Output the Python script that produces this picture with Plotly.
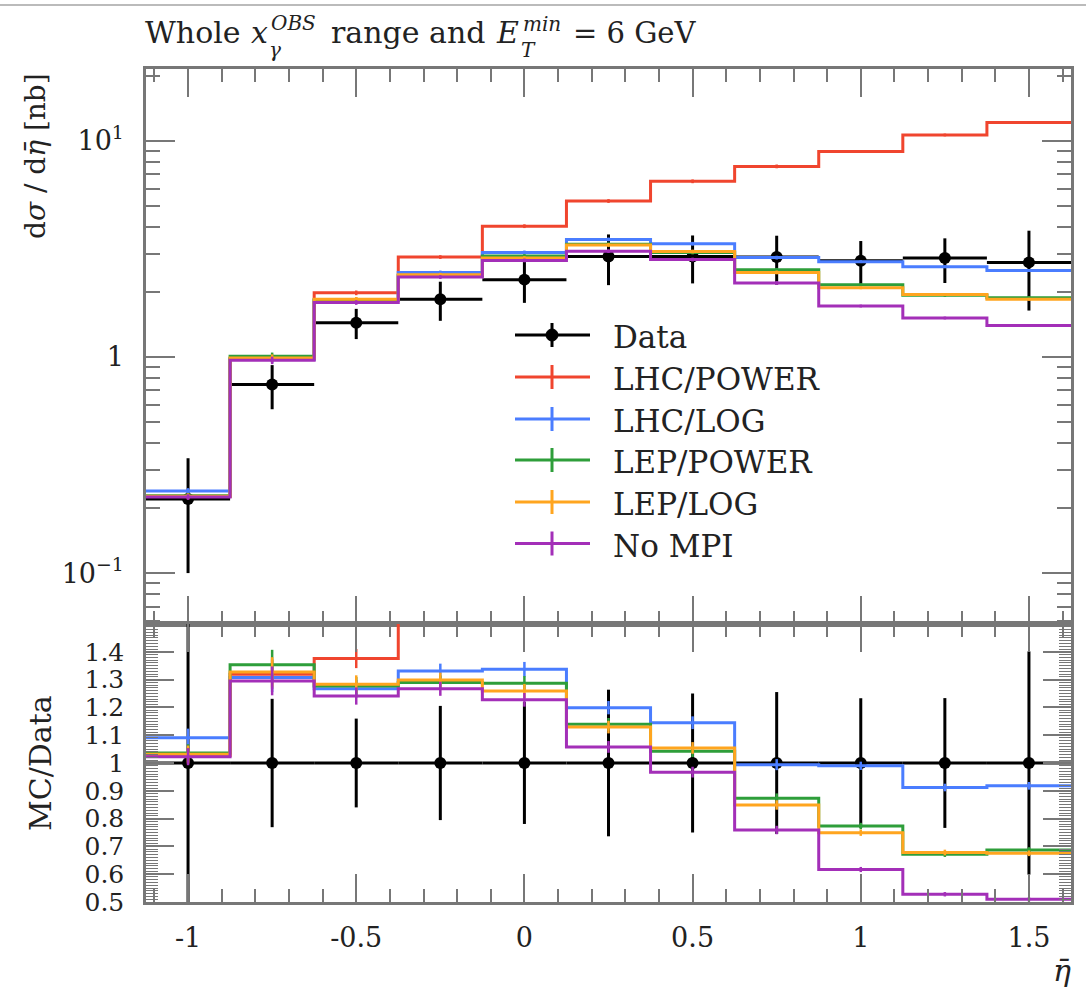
import plotly.graph_objects as go

# ---------------- data ----------------
bin_edges = [-1.125, -0.875, -0.625, -0.375, -0.125, 0.125, 0.375, 0.625, 0.875, 1.125, 1.375, 1.625]
bin_centers = [-1.0, -0.75, -0.5, -0.25, 0.0, 0.25, 0.5, 0.75, 1.0, 1.25, 1.5]

data_vals = [0.22, 0.745, 1.44, 1.85, 2.28, 2.92, 2.92, 2.90, 2.79, 2.87, 2.74]
data_errs = [0.12, 0.172, 0.23, 0.38, 0.50, 0.77, 0.73, 0.74, 0.65, 0.67, 1.10]

lhc_power = [0.226, 0.983, 1.981, 2.90, 4.03, 5.27, 6.50, 7.62, 8.94, 10.65, 12.16]
lhc_log = [0.240, 0.974, 1.824, 2.462, 3.048, 3.501, 3.343, 2.883, 2.762, 2.617, 2.515]
lep_power = [0.228, 1.008, 1.839, 2.385, 2.934, 3.326, 3.043, 2.532, 2.157, 1.929, 1.882]
lep_log = [0.227, 0.989, 1.848, 2.403, 2.871, 3.297, 3.078, 2.462, 2.090, 1.946, 1.850]
no_mpi = [0.225, 0.965, 1.787, 2.344, 2.798, 3.089, 2.824, 2.201, 1.721, 1.515, 1.397]
mc_rel_err = [0.03, 0.04, 0.025, 0.02, 0.02, 0.02, 0.02, 0.02, 0.015, 0.015, 0.015]

series_names = ["LHC/POWER", "LHC/LOG", "LEP/POWER", "LEP/LOG", "No MPI"]
series_vals = [lhc_power, lhc_log, lep_power, lep_log, no_mpi]
series_colors = ["#F0452E", "#4A7DFF", "#2E9E3A", "#FFA51F", "#A32FB8"]

x_tick_vals = [-1, -0.5, 0, 0.5, 1, 1.5]
x_tick_text = ["-1", "-0.5", "0", "0.5", "1", "1.5"]
y_tick_vals = [0.1, 1, 10]
y_tick_text = ["10<sup>\u22121</sup>", "1", "10<sup>1</sup>"]
r_tick_vals = [0.5, 0.6, 0.7, 0.8, 0.9, 1.0, 1.1, 1.2, 1.3, 1.4]
r_tick_text = ["0.5", "0.6", "0.7", "0.8", "0.9", "1", "1.1", "1.2", "1.3", "1.4"]

# ---------------- geometry ----------------
W, H = 1086, 991
L, R, T, B = 146, 1071, 69, 902
FONT = "DejaVu Serif"
FRAME = "#777777"
TXT = "#222222"


def xp(px):
    return (px - L) / (R - L)


def yp(py):
    return (B - py) / (B - T)


split = yp(624)
half_w = [(bin_edges[i + 1] - bin_edges[i]) / 2 for i in range(len(bin_centers))]

fig = go.Figure()

# ---- top panel: data
fig.add_trace(go.Scatter(
    x=bin_centers, y=data_vals, mode="markers", xaxis="x", yaxis="y",
    marker=dict(color="black", size=12),
    error_x=dict(type="data", array=half_w, width=0, thickness=3, color="black"),
    error_y=dict(type="data", array=data_errs, width=0, thickness=3, color="black"),
    showlegend=False, hoverinfo="skip"))

# ---- top panel: MC
for vals, col in zip(series_vals, series_colors):
    fig.add_trace(go.Scatter(
        x=bin_edges, y=vals + [vals[-1]], mode="lines", xaxis="x", yaxis="y",
        line=dict(shape="hv", color=col, width=3), showlegend=False, hoverinfo="skip"))
    fig.add_trace(go.Scatter(
        x=bin_centers, y=vals, mode="markers", xaxis="x", yaxis="y",
        marker=dict(size=1, color=col),
        error_y=dict(type="data", array=[v * e for v, e in zip(vals, mc_rel_err)],
                     width=0, thickness=2.5, color=col),
        showlegend=False, hoverinfo="skip"))

# ---- ratio panel: data
fig.add_trace(go.Scatter(
    x=bin_centers, y=[1.0] * len(bin_centers), mode="markers", xaxis="x2", yaxis="y2",
    marker=dict(color="black", size=12),
    error_x=dict(type="data", array=half_w, width=0, thickness=3, color="black"),
    error_y=dict(type="data", array=[e / v for e, v in zip(data_errs, data_vals)],
                 width=0, thickness=3, color="black"),
    showlegend=False, hoverinfo="skip"))

# ---- ratio panel: MC
for vals, col in zip(series_vals, series_colors):
    ratio = [m / d for m, d in zip(vals, data_vals)]
    fig.add_trace(go.Scatter(
        x=bin_edges, y=ratio + [ratio[-1]], mode="lines", xaxis="x2", yaxis="y2",
        line=dict(shape="hv", color=col, width=3), showlegend=False, hoverinfo="skip"))
    fig.add_trace(go.Scatter(
        x=bin_centers, y=ratio, mode="markers", xaxis="x2", yaxis="y2",
        marker=dict(size=1, color=col),
        error_y=dict(type="data", array=[r * e for r, e in zip(ratio, mc_rel_err)],
                     width=0, thickness=2.5, color=col),
        showlegend=False, hoverinfo="skip"))

# ---------------- axes ----------------
common_x = dict(range=[bin_edges[0], bin_edges[-1]], showgrid=False, zeroline=False,
                showline=True, linecolor=FRAME, linewidth=2.5, mirror="allticks",
                ticks="inside", ticklen=28, tickwidth=2, tickcolor=FRAME,
                tickmode="array", tickvals=x_tick_vals, ticktext=x_tick_text,
                minor=dict(dtick=0.1, tick0=0, ticks="inside", ticklen=13,
                           tickwidth=2, tickcolor=FRAME))

minor_log = []
for dec in [0.01, 0.1, 1, 10]:
    for k in range(2, 10):
        minor_log.append(round(k * dec, 4))

fig.update_layout(
    width=W, height=H,
    margin=dict(l=L, r=W - R, t=T, b=H - B, pad=0),
    paper_bgcolor="white", plot_bgcolor="white",
    showlegend=False,
    font=dict(family=FONT, size=26, color=TXT),
    xaxis=dict(common_x, domain=[0, 1], anchor="y", showticklabels=False, matches="x2"),
    xaxis2=dict(common_x, domain=[0, 1], anchor="y2", showticklabels=True,
                tickfont=dict(family=FONT, size=27, color=TXT), ticklabelstandoff=10),
    yaxis=dict(type="log", domain=[split, 1], anchor="x",
               range=[-1.2356, 1.3326], showgrid=False, zeroline=False,
               showline=True, linecolor=FRAME, linewidth=2.5, mirror="allticks",
               ticks="inside", ticklen=29, tickwidth=2, tickcolor=FRAME,
               tickmode="array", tickvals=y_tick_vals, ticktext=y_tick_text,
               tickfont=dict(family=FONT, size=27, color=TXT), ticklabelstandoff=14,
               minor=dict(tickmode="array", tickvals=minor_log, ticks="inside",
                          ticklen=14, tickwidth=2, tickcolor=FRAME)),
    yaxis2=dict(domain=[0, split], anchor="x2", range=[0.5, 1.5],
                showgrid=False, zeroline=False,
                showline=True, linecolor=FRAME, linewidth=2.5, mirror="allticks",
                ticks="inside", ticklen=28, tickwidth=2, tickcolor=FRAME,
                tickmode="array", tickvals=r_tick_vals, ticktext=r_tick_text,
                tickfont=dict(family=FONT, size=25, color=TXT), ticklabelstandoff=14,
                minor=dict(dtick=0.01, tick0=0, ticks="inside", ticklen=12,
                           tickwidth=1, tickcolor=FRAME)),
)

shapes = []
annotations = []

# thin page border line at top
shapes.append(dict(type="line", xref="paper", yref="paper", x0=xp(0), x1=xp(W),
                   y0=yp(5), y1=yp(5), line=dict(color="#BBBBBB", width=2)))

# ---------------- legend (manual) ----------------
rows = [335, 377, 419, 460, 502, 543.5]
leg_names = ["Data"] + series_names
leg_colors = ["black"] + series_colors
for i, (nm, col) in enumerate(zip(leg_names, leg_colors)):
    yy = rows[i]
    shapes.append(dict(type="line", xref="paper", yref="paper",
                       x0=xp(515), x1=xp(590), y0=yp(yy), y1=yp(yy),
                       line=dict(color=col, width=3)))
    shapes.append(dict(type="line", xref="paper", yref="paper",
                       x0=xp(552), x1=xp(552), y0=yp(yy - 12), y1=yp(yy + 12),
                       line=dict(color=col, width=3)))
    if i == 0:
        shapes.append(dict(type="circle", xref="paper", yref="paper",
                           xsizemode="pixel", ysizemode="pixel",
                           xanchor=xp(552), yanchor=yp(yy),
                           x0=-6, x1=6, y0=-6, y1=6,
                           fillcolor="black", line=dict(color="black", width=1)))
    annotations.append(dict(xref="paper", yref="paper", x=xp(611), y=yp(yy + 2),
                            xanchor="left", yanchor="middle", showarrow=False,
                            text=nm, font=dict(family=FONT, size=31, color=TXT)))

# ---------------- axis titles ----------------
annotations.append(dict(xref="paper", yref="paper", x=xp(36), y=yp(156),
                        xanchor="center", yanchor="middle", showarrow=False, textangle=-90,
                        text="d<i>\u03c3</i> / d<i>\u03b7\u0304</i> [nb]",
                        font=dict(family=FONT, size=28, color=TXT)))
annotations.append(dict(xref="paper", yref="paper", x=xp(40), y=yp(763),
                        xanchor="center", yanchor="middle", showarrow=False, textangle=-90,
                        text="MC/Data", font=dict(family=FONT, size=30, color=TXT)))
annotations.append(dict(xref="paper", yref="paper", x=xp(1062), y=yp(970),
                        xanchor="center", yanchor="middle", showarrow=False,
                        text="<i>\u03b7\u0304</i>", font=dict(family=FONT, size=30, color=TXT)))

# ---------------- title (pieces, to stack sub/superscripts) ----------------
def title_piece(px, py, txt, size):
    annotations.append(dict(xref="paper", yref="paper", x=xp(px), y=yp(py),
                            xanchor="left", yanchor="middle", showarrow=False,
                            text=txt, font=dict(family=FONT, size=size, color=TXT)))

title_piece(143, 33, "Whole", 30)
title_piece(249, 33, "<i>x</i>", 30)
title_piece(269, 23, "<i>OBS</i>", 20)
title_piece(267, 50, "<i>\u03b3</i>", 20)
title_piece(329, 33, "range and", 30)
title_piece(494, 33, "<i>E</i>", 30)
title_piece(521, 24, "<i>min</i>", 20)
title_piece(519, 50, "<i>T</i>", 20)
title_piece(571, 33, "= 6 GeV", 29)

fig.update_layout(shapes=shapes, annotations=annotations)

fig.write_html(
    "out.html",
    config={"displayModeBar": False},
    post_script="document.body.style.margin='0px';document.body.style.overflow='hidden';",
)
